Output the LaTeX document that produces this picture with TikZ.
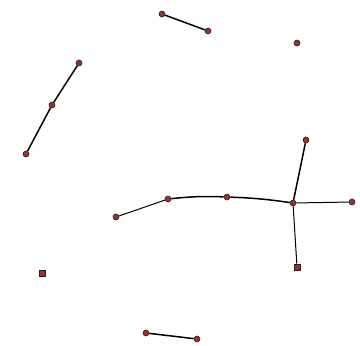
\documentclass[tikz,border=0pt]{standalone}
\usetikzlibrary{arrows.meta}

\definecolor{vtxfill}{RGB}{128,58,58}
\definecolor{vtxline}{RGB}{60,20,20}

\begin{document}
\begin{tikzpicture}[
    x=1pt, y=-1pt,
    vtx/.style={
        circle, draw=vtxline, fill=vtxfill,
        line width=0.6pt,
        inner sep=0pt, minimum size=6pt
    },
    vtxsq/.style={
        rectangle, draw=vtxline, fill=vtxfill,
        line width=0.6pt,
        inner sep=0pt, minimum size=6pt
    },
    edge/.style={line width=1.5pt, black},
    thin edge/.style={line width=1pt, black}
]

\useasboundingbox (0,0) rectangle (360,346);

% ===================== VERTICES =====================
\node[vtx] (top1) at (162,14) {};
\node[vtx] (top2) at (208,31) {};
\node[vtx] (lone1) at (297,43) {};

\node[vtx] (left1) at (79,63) {};
\node[vtx] (left2) at (52,105) {};
\node[vtx] (left3) at (26,154) {};

\node[vtx] (arc1) at (116,217) {};
\node[vtx] (arc2) at (168,199) {};
\node[vtx] (arc3) at (227,197) {};
\node[vtx] (hub) at (293,203) {};
\node[vtx] (hubN) at (306,140) {};
\node[vtx] (hubE) at (352,202) {};
\node[vtxsq] (hubS) at (297,267) {};

\node[vtxsq] (lone2) at (42,273) {};

\node[vtx] (bot1) at (146,333) {};
\node[vtx] (bot2) at (197,339) {};

% ===================== EDGES =====================
\draw[edge] (top1) -- (top2);

\draw[edge] (left1) -- (left2);
\draw[edge] (left2) -- (left3);

\draw[thin edge] (arc1) -- (arc2);
\draw[edge] (arc2) to[bend left=4] (arc3);
\draw[edge] (arc3) to[bend left=3] (hub);
\draw[edge] (hub) -- (hubN);
\draw[thin edge] (hub) -- (hubE);
\draw[thin edge] (hub) -- (hubS);

\draw[edge] (bot1) -- (bot2);

\end{tikzpicture}
\end{document}
